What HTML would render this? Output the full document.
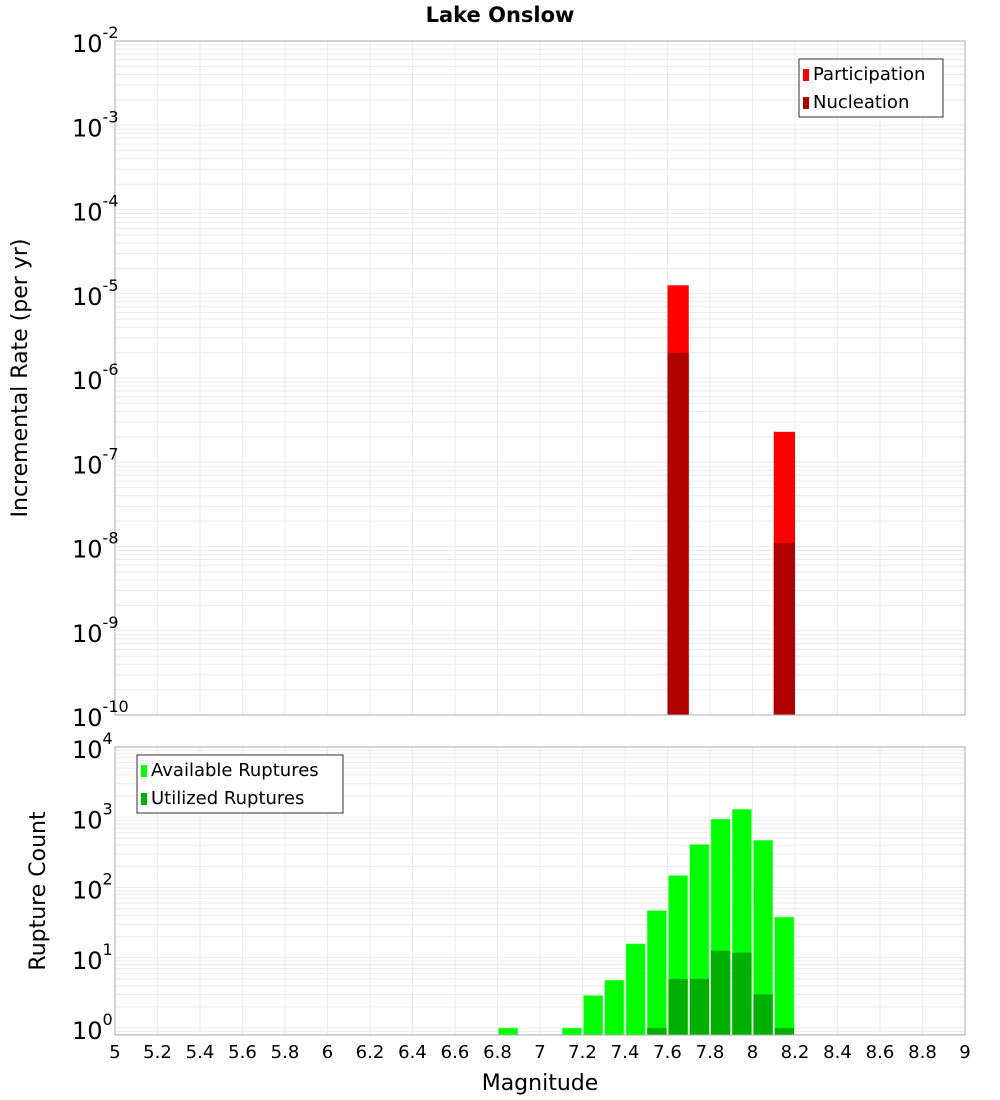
<!DOCTYPE html>
<html><head><meta charset="utf-8"><style>body{margin:0;background:#fff}svg{display:block;font-family:"DejaVu Sans","Liberation Sans",sans-serif}</style></head>
<body>
<svg id="c" width="1000" height="1100"></svg>
<script>
const topBins=[7.65,8.15];
const participation=[1.26e-5,2.3e-7];
const nucleation=[2.0e-6,1.1e-8];
const botBins=[6.85,7.15,7.25,7.35,7.45,7.55,7.65,7.75,7.85,7.95,8.05,8.15];
const available=[1,1,2.9,4.8,15.8,47,148,410,940,1300,470,38];
const utilized=[0,0,0,0,0,1,5,5,12.6,11.8,3,1];
const xTicks=[5,5.2,5.4,5.6,5.8,6,6.2,6.4,6.6,6.8,7,7.2,7.4,7.6,7.8,8,8.2,8.4,8.6,8.8,9];
const topExp=[-2,-3,-4,-5,-6,-7,-8,-9,-10];
const botExp=[0,1,2,3,4];
const NS="http://www.w3.org/2000/svg",svg=document.getElementById('c');
function el(t,a,p){const e=document.createElementNS(NS,t);for(const k in a)e.setAttribute(k,a[k]);(p||svg).appendChild(e);return e;}
const L=115,R=965;
const X=m=>L+(m-5)*(R-L)/4;
const T0=41,T1=715,Yt=v=>T0+(-2-Math.log10(v))*(T1-T0)/8;
const B0=747,B1=1035,Yb=v=>1028-Math.log10(v)*70.25;
function grid(y0,y1,Y,emin,emax){
 for(let e=emin;e<=emax;e++)for(let k=1;k<10;k++){const y=Y(k*Math.pow(10,e));if(y<y0-0.5||y>y1+0.5)continue;
  const g=el('line',{x1:L,x2:R,y1:y,y2:y,stroke:'#ebebeb','stroke-width':1});}
 xTicks.forEach(t=>{const g=el('line',{x1:X(t),x2:X(t),y1:y0,y2:y1,stroke:'#ebebeb'});});
}
grid(T0,T1,Yt,-10,-3);grid(B0,B1,Yb,-1,3);
// top bars
topBins.forEach((m,i)=>{
 const x0=X(m-0.05),w=X(m+0.05)-x0;
 let r=el('rect',{x:x0,y:Yt(participation[i]),width:w,height:T1-Yt(participation[i]),fill:'#ff0000'});
 
 r=el('rect',{x:x0,y:Yt(nucleation[i]),width:w,height:T1-Yt(nucleation[i]),fill:'#b00000'});
 
});
botBins.forEach((m,i)=>{
 const x0=X(m-0.05)+1,w=X(m+0.05)-x0-1;
 let r=el('rect',{x:x0,y:Yb(available[i]),width:w,height:B1-Yb(available[i]),fill:'#00ff00',stroke:'#7fff7f','stroke-width':0.6});
 
 if(utilized[i]>0){r=el('rect',{x:x0,y:Yb(utilized[i]),width:w,height:B1-Yb(utilized[i]),fill:'#00b000'});
 }
});
let f=el('rect',{x:L,y:T0,width:R-L,height:T1-T0,fill:'none',stroke:'#aaa'});
f=el('rect',{x:L,y:B0,width:R-L,height:B1-B0,fill:'none',stroke:'#aaa'});
function ylab(y,e,name){const t=el('text',{x:72,y:y+11,'font-size':24,fill:'#000'});t.textContent='10';
 const s=el('tspan',{dy:-14,'font-size':16});s.textContent=String(e);t.appendChild(s);}
topExp.forEach(e=>ylab(Yt(Math.pow(10,e)),e,'top-y-tick-label'));
botExp.forEach(e=>ylab(Yb(Math.pow(10,e)),e,'bottom-y-tick-label'));
xTicks.forEach(t=>{const s=el('text',{x:X(t),y:1058,'font-size':18,'text-anchor':'middle'});s.textContent=String(t);});
let t=el('text',{x:500,y:22,'font-size':21,'font-weight':'bold','text-anchor':'middle'});t.textContent='Lake Onslow';
t=el('text',{x:540,y:1090,'font-size':22,'text-anchor':'middle'});t.textContent='Magnitude';
t=el('text',{x:0,y:0,'font-size':22,'text-anchor':'middle',transform:'translate(27,378) rotate(-90)'});t.textContent='Incremental Rate (per yr)';
t=el('text',{x:0,y:0,'font-size':22,'text-anchor':'middle',transform:'translate(45,891) rotate(-90)'});t.textContent='Rupture Count';
function legend(x,y,w,items,name){const g=el('g',{});
 el('rect',{x:x,y:y,width:w,height:58,fill:'#fff',stroke:'#333'},g);
 items.forEach((it,i)=>{el('rect',{x:x+4,y:y+10+i*28,width:6,height:12,fill:it[1]},g);
  const s=el('text',{x:x+14,y:y+21+i*28,'font-size':18},g);s.textContent=it[0];});}
legend(799,59,144,[['Participation','#ff0000'],['Nucleation','#b00000']],'top-legend');
legend(137,755,206,[['Available Ruptures','#00ff00'],['Utilized Ruptures','#00b000']],'bottom-legend');
</script>
</body></html>
